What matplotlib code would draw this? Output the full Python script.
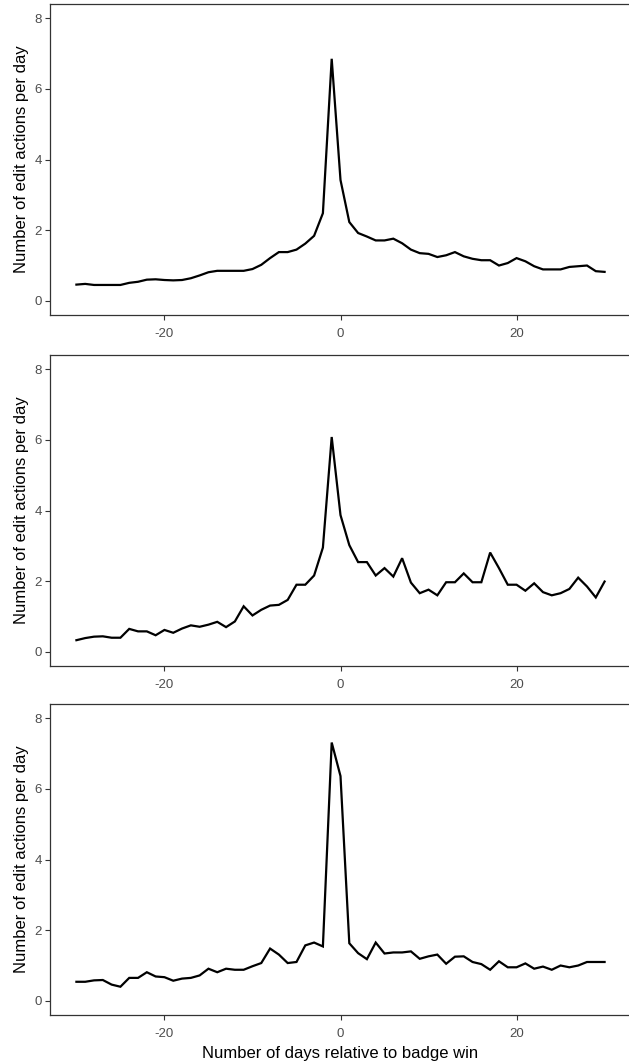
import matplotlib
matplotlib.use("Agg")
import matplotlib.pyplot as plt
import numpy as np

plt.rcParams['font.family'] = ['Liberation Sans', 'DejaVu Sans']

days = list(range(-30, 31))

panel1 = [0.46, 0.48, 0.45, 0.45, 0.45, 0.45, 0.51, 0.54, 0.60, 0.61,
          0.59, 0.58, 0.59, 0.64, 0.72, 0.81, 0.85, 0.85, 0.85, 0.85,
          0.90, 1.02, 1.21, 1.38, 1.38, 1.45, 1.62, 1.84, 2.48, 6.85,
          3.42, 2.23, 1.92, 1.82, 1.71, 1.71, 1.76, 1.63, 1.45, 1.35,
          1.33, 1.24, 1.29, 1.38, 1.26, 1.19, 1.15, 1.15, 1.00, 1.07,
          1.21, 1.12, 0.98, 0.89, 0.89, 0.89, 0.96, 0.98, 1.00, 0.84,
          0.82]

panel2 = [0.33, 0.39, 0.43, 0.44, 0.40, 0.40, 0.65, 0.58, 0.58, 0.47,
          0.62, 0.54, 0.66, 0.75, 0.71, 0.77, 0.85, 0.70, 0.86, 1.29,
          1.03, 1.19, 1.31, 1.33, 1.47, 1.90, 1.90, 2.16, 2.95, 6.08,
          3.87, 3.02, 2.54, 2.54, 2.16, 2.37, 2.13, 2.65, 1.96, 1.66,
          1.76, 1.60, 1.97, 1.97, 2.22, 1.97, 1.97, 2.81, 2.37, 1.90,
          1.90, 1.73, 1.94, 1.69, 1.60, 1.66, 1.78, 2.10, 1.85, 1.54,
          1.99]

panel3 = [0.54, 0.54, 0.58, 0.59, 0.46, 0.40, 0.65, 0.65, 0.81, 0.69,
          0.67, 0.57, 0.63, 0.65, 0.72, 0.91, 0.81, 0.91, 0.88, 0.88,
          0.98, 1.07, 1.48, 1.31, 1.07, 1.10, 1.57, 1.65, 1.54, 7.31,
          6.36, 1.63, 1.35, 1.18, 1.65, 1.34, 1.37, 1.37, 1.40, 1.19,
          1.26, 1.31, 1.05, 1.25, 1.26, 1.10, 1.04, 0.88, 1.12, 0.95,
          0.95, 1.06, 0.91, 0.97, 0.88, 1.00, 0.95, 1.00, 1.10, 1.10,
          1.10]

x_ticks = [-20, 0, 20]
y_ticks = [0, 2, 4, 6, 8]
y_label = "Number of edit actions per day"
x_label = "Number of days relative to badge win"

W, H = 629, 1064
fig = plt.figure(figsize=(W / 100, H / 100), dpi=100)

tops = [4, 355, 704]
bottoms = [315, 666, 1015]
left, right = 50, 631
series = [panel1, panel2, panel3]

for i, (t, b, vals) in enumerate(zip(tops, bottoms, series)):
    ax = fig.add_axes([left / W, 1 - b / H, (right - left) / W, (b - t) / H])
    ax.plot(days, vals, color='black', lw=1.6, solid_joinstyle='miter')
    ax.set_xlim(-33, 33)
    ax.set_ylim(-0.4, 8.4)
    ax.set_xticks(x_ticks)
    ax.set_yticks(y_ticks)
    ax.set_xticklabels([str(v) for v in x_ticks])
    for s in ax.spines.values():
        s.set_color('#333333')
        s.set_linewidth(0.9)
    ax.tick_params(axis='both', direction='out', length=3.5, width=0.8,
                   color='#333333', labelcolor='#4D4D4D', labelsize=9.5, pad=2.5)
    ax.tick_params(axis='x', pad=6)
    ax.set_ylabel(y_label, fontsize=12, color='black', labelpad=4)
    if i == 2:
        ax.set_xlabel(x_label, fontsize=12, color='black', labelpad=4.5)

fig.savefig("out.png", dpi=100)
